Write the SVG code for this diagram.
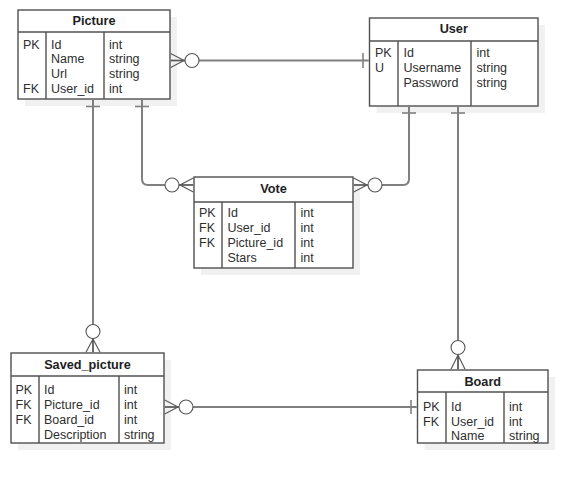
<svg xmlns="http://www.w3.org/2000/svg" width="588" height="485" viewBox="0 0 588 485">
  <style>
    .shadow { fill: #f1f1f1; stroke: none; }
    .box { fill: #ffffff; stroke: #505050; stroke-width: 1.4; }
    .div { stroke: #505050; stroke-width: 1.4; fill: none; }
    .title { font-family: "Liberation Sans", Arial, sans-serif; font-size: 12.7px; font-weight: bold; fill: #1e1e1e; text-anchor: middle; }
    .cell { font-family: "Liberation Sans", Arial, sans-serif; font-size: 12.5px; fill: #2e2e2e; }
    .wire { stroke: #808080; stroke-width: 2; fill: none; }
    .bar { stroke: #808080; stroke-width: 1.6; fill: none; }
    .crow { stroke: #5a5a5a; stroke-width: 1.2; fill: none; }
    .ring { stroke: #555555; stroke-width: 1.1; fill: #ffffff; }
  </style>

  <!-- Picture -->
  <g id="picture">
    <rect class="shadow" x="25" y="17" width="152" height="89"/>
    <rect class="box" x="18" y="10" width="152" height="89"/>
    <line class="div" x1="18" y1="32" x2="170" y2="32"/>
    <line class="div" x1="46" y1="32" x2="46" y2="99"/>
    <line class="div" x1="104" y1="32" x2="104" y2="99"/>
    <text class="title" x="94" y="25">Picture</text>
    <text class="cell" x="23" y="48.5">PK</text>
    <text class="cell" x="23" y="92.5">FK</text>
    <text class="cell" x="51" y="48.5">Id</text>
    <text class="cell" x="51" y="63">Name</text>
    <text class="cell" x="51" y="77.5">Url</text>
    <text class="cell" x="51" y="92.5">User_id</text>
    <text class="cell" x="109" y="48.5">int</text>
    <text class="cell" x="109" y="63">string</text>
    <text class="cell" x="109" y="77.5">string</text>
    <text class="cell" x="109" y="92.5">int</text>
  </g>

  <!-- User -->
  <g id="user">
    <rect class="shadow" x="376.5" y="25" width="168.5" height="88"/>
    <rect class="box" x="369.5" y="18" width="168.5" height="88"/>
    <line class="div" x1="369.5" y1="41" x2="538" y2="41"/>
    <line class="div" x1="398" y1="41" x2="398" y2="106"/>
    <line class="div" x1="471" y1="41" x2="471" y2="106"/>
    <text class="title" x="453.75" y="33">User</text>
    <text class="cell" x="375" y="57">PK</text>
    <text class="cell" x="375" y="72">U</text>
    <text class="cell" x="403.5" y="57">Id</text>
    <text class="cell" x="403.5" y="72">Username</text>
    <text class="cell" x="403.5" y="87">Password</text>
    <text class="cell" x="476.5" y="57">int</text>
    <text class="cell" x="476.5" y="72">string</text>
    <text class="cell" x="476.5" y="87">string</text>
  </g>

  <!-- Vote -->
  <g id="vote">
    <rect class="shadow" x="201" y="184" width="159" height="91"/>
    <rect class="box" x="194" y="177" width="159" height="91"/>
    <line class="div" x1="194" y1="202" x2="353" y2="202"/>
    <line class="div" x1="222" y1="202" x2="222" y2="268"/>
    <line class="div" x1="295" y1="202" x2="295" y2="268"/>
    <text class="title" x="273.5" y="193">Vote</text>
    <text class="cell" x="199" y="217">PK</text>
    <text class="cell" x="199" y="232">FK</text>
    <text class="cell" x="199" y="247">FK</text>
    <text class="cell" x="227.5" y="217">Id</text>
    <text class="cell" x="227.5" y="232">User_id</text>
    <text class="cell" x="227.5" y="247">Picture_id</text>
    <text class="cell" x="227.5" y="262">Stars</text>
    <text class="cell" x="300.5" y="217">int</text>
    <text class="cell" x="300.5" y="232">int</text>
    <text class="cell" x="300.5" y="247">int</text>
    <text class="cell" x="300.5" y="262">int</text>
  </g>

  <!-- Saved_picture -->
  <g id="saved_picture">
    <rect class="shadow" x="18" y="360" width="153" height="90"/>
    <rect class="box" x="11" y="353" width="153" height="90"/>
    <line class="div" x1="11" y1="376" x2="164" y2="376"/>
    <line class="div" x1="39" y1="376" x2="39" y2="443"/>
    <line class="div" x1="119" y1="376" x2="119" y2="443"/>
    <text class="title" x="87.5" y="368.5">Saved_picture</text>
    <text class="cell" x="15.5" y="394">PK</text>
    <text class="cell" x="15.5" y="409">FK</text>
    <text class="cell" x="15.5" y="424">FK</text>
    <text class="cell" x="44" y="394">Id</text>
    <text class="cell" x="44" y="409">Picture_id</text>
    <text class="cell" x="44" y="424">Board_id</text>
    <text class="cell" x="44" y="439">Description</text>
    <text class="cell" x="124" y="394">int</text>
    <text class="cell" x="124" y="409">int</text>
    <text class="cell" x="124" y="424">int</text>
    <text class="cell" x="124" y="439">string</text>
  </g>

  <!-- Board -->
  <g id="board">
    <rect class="shadow" x="424.5" y="377" width="130.5" height="73"/>
    <rect class="box" x="417.5" y="370" width="130.5" height="73"/>
    <line class="div" x1="417.5" y1="392" x2="548" y2="392"/>
    <line class="div" x1="446" y1="392" x2="446" y2="443"/>
    <line class="div" x1="504" y1="392" x2="504" y2="443"/>
    <text class="title" x="482.75" y="385.5">Board</text>
    <text class="cell" x="423" y="411">PK</text>
    <text class="cell" x="423" y="425.5">FK</text>
    <text class="cell" x="451" y="411">Id</text>
    <text class="cell" x="451" y="425.5">User_id</text>
    <text class="cell" x="451" y="440">Name</text>
    <text class="cell" x="509" y="411">int</text>
    <text class="cell" x="509" y="425.5">int</text>
    <text class="cell" x="509" y="440">string</text>
  </g>

  <!-- connectors, drawn over the box shadows -->
  <g id="connectors">
    <!-- Picture -> User -->
    <line class="wire" x1="170.7" y1="60.5" x2="368.8" y2="60.5"/>
    <line class="bar" x1="363" y1="53" x2="363" y2="68"/>
    <path class="crow" d="M170.7 53.5 L184 60.5 L170.7 67.5 M170.7 60.5 L184 60.5"/>
    <circle class="ring" cx="192" cy="60.5" r="7"/>

    <!-- Picture -> Vote -->
    <path class="wire" d="M142 99.7 V179 Q142 185 148 185 H193.3"/>
    <line class="bar" x1="135" y1="106.5" x2="149" y2="106.5"/>
    <path class="crow" d="M193.3 178 L180 185 L193.3 192 M180 185 L193.3 185"/>
    <circle class="ring" cx="172" cy="185" r="7"/>

    <!-- User -> Vote -->
    <path class="wire" d="M409 106.7 V179 Q409 185 403 185 H353.7"/>
    <line class="bar" x1="402" y1="113" x2="416" y2="113"/>
    <path class="crow" d="M353.7 178 L367 185 L353.7 192 M353.7 185 L367 185"/>
    <circle class="ring" cx="375" cy="185" r="7"/>

    <!-- Picture -> Saved_picture -->
    <line class="wire" x1="93" y1="99.7" x2="93" y2="352.3"/>
    <line class="bar" x1="86" y1="106.5" x2="100" y2="106.5"/>
    <path class="crow" d="M86 352.3 L93 339 L100 352.3 M93 339 L93 352.3"/>
    <circle class="ring" cx="93" cy="331.5" r="7"/>

    <!-- User -> Board -->
    <line class="wire" x1="458" y1="106.7" x2="458" y2="369.3"/>
    <line class="bar" x1="451" y1="113" x2="465" y2="113"/>
    <path class="crow" d="M451 369.3 L458 355 L465 369.3 M458 355 L458 369.3"/>
    <circle class="ring" cx="458" cy="347.5" r="7"/>

    <!-- Saved_picture -> Board -->
    <line class="wire" x1="164.7" y1="407" x2="416.8" y2="407"/>
    <line class="bar" x1="411" y1="400" x2="411" y2="414"/>
    <path class="crow" d="M164.7 400 L178 407 L164.7 414 M164.7 407 L178 407"/>
    <circle class="ring" cx="186" cy="407" r="7"/>
  </g>
</svg>
